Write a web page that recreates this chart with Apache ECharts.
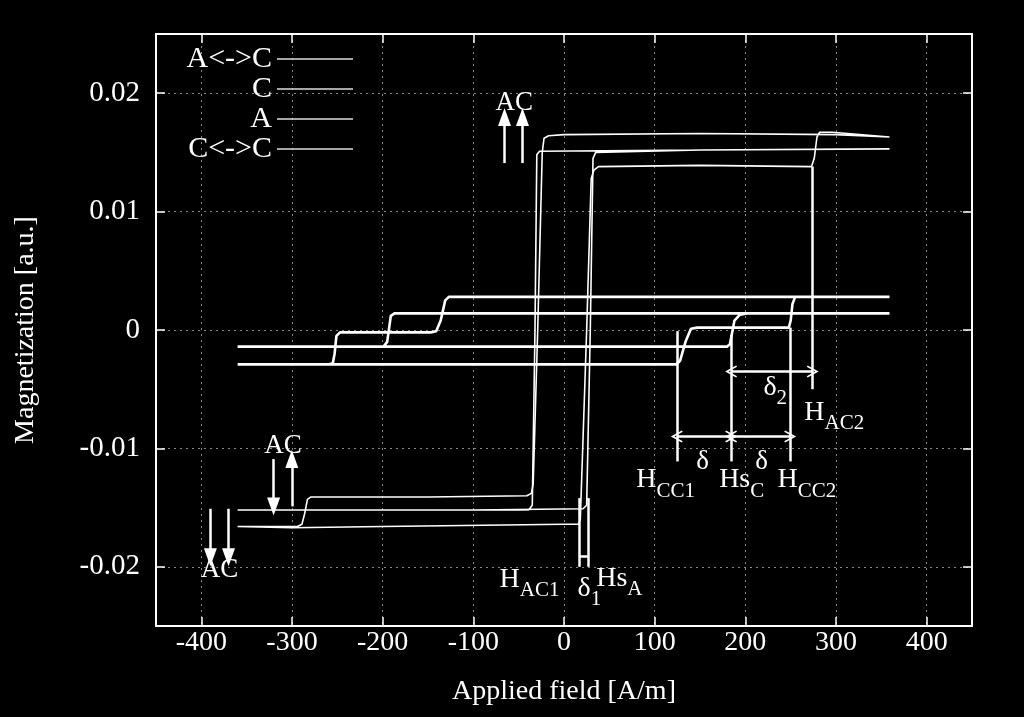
<!DOCTYPE html>
<html>
<head>
<meta charset="utf-8">
<script src="https://cdn.jsdelivr.net/npm/echarts@6/dist/echarts.min.js"></script>
<style>
  html, body { margin: 0; padding: 0; background: #000; }
  #chart { width: 1024px; height: 717px; }
</style>
</head>
<body>
<div id="chart"></div>
<script>
// loop branches, [field A/m, magnetization a.u.]
var acDesc = [[359, 0.0163], [300, 0.0165], [150, 0.0166], [0, 0.0165], [-17, 0.0164], [-22, 0.0162], [-24, 0.0150],
  [-29, 0.0000], [-34, -0.0130], [-36, -0.0138], [-41, -0.0140], [-150, -0.0141], [-279, -0.0141], [-283, -0.0143],
  [-286, -0.0155], [-289, -0.0164], [-294, -0.0166], [-360, -0.0166]];
var acAsc = [[-360, -0.0166], [-300, -0.0167], [-200, -0.0166], [0, -0.0164], [16, -0.0164], [18, -0.0160], [25, 0.0000],
  [30, 0.0128], [33, 0.0135], [38, 0.0138], [150, 0.0139], [273, 0.0138], [276, 0.0145], [279, 0.0163], [282, 0.0167],
  [296, 0.0167], [359, 0.0163]];
var aDesc = [[359, 0.0153], [150, 0.0152], [-27, 0.0151], [-30, 0.0148], [-32, 0.0000], [-35, -0.0148], [-39, -0.0152],
  [-200, -0.0152], [-360, -0.0152]];
var aAsc = [[-360, -0.0152], [-100, -0.0152], [21, -0.0151], [25, -0.0148], [29, 0.0000], [32, 0.0145], [35, 0.0150],
  [150, 0.0152], [359, 0.0153]];
var cDesc = [[359, 0.0014], [0, 0.0014], [-187, 0.0014], [-191, 0.0012], [-195, -0.0010], [-199, -0.0014], [-360, -0.0014]];
var cAsc = [[-360, -0.0014], [0, -0.0014], [180, -0.0014], [183, -0.0012], [188, 0.0008], [194, 0.0013], [202, 0.0014],
  [359, 0.0014]];
var ccDesc = [[359, 0.0028], [0, 0.0028], [-127, 0.0028], [-131, 0.0025], [-136, 0.0008], [-141, -0.0001], [-147, -0.0002],
  [-247, -0.0002], [-251, -0.0005], [-253, -0.0020], [-255, -0.0028], [-259, -0.0029], [-360, -0.0029]];
var ccAsc = [[-360, -0.0029], [0, -0.0029], [124, -0.0029], [128, -0.0026], [134, -0.0010], [140, 0.0001], [147, 0.0002],
  [248, 0.0002], [250, 0.0008], [252, 0.0022], [255, 0.0028], [262, 0.0028], [359, 0.0028]];

var seriesNames = ['A<->C', 'C', 'A', 'C<->C'];

// annotation text, anchored in data units
var notes = [
  [-55, 0.0192, 'AC'],
  [-310, -0.00975, 'AC'],
  [-380, -0.0203, 'AC'],
  [233, -0.0058, '{n|δ}{s|2}'],
  [298, -0.0079, '{n|H}{s|AC2}'],
  [153, -0.0111, 'δ'],
  [218, -0.0111, 'δ'],
  [112, -0.0136, '{n|H}{s|CC1}'],
  [196, -0.0136, '{n|Hs}{s|C}'],
  [268, -0.0136, '{n|H}{s|CC2}'],
  [-38, -0.0220, '{n|H}{s|AC1}'],
  [28, -0.0228, '{n|δ}{s|1}'],
  [61, -0.0219, '{n|Hs}{s|A}']
];
// arrows [x1, y1, x2, y2, heads]
var arrows = [
  [-65.6, 0.0141, -65.6, 0.0180, 'up'],
  [-45.8, 0.0141, -45.8, 0.0180, 'up'],
  [-320.3, -0.0109, -320.3, -0.0149, 'up'],
  [-300.2, -0.0149, -300.2, -0.0109, 'up'],
  [-390, -0.0151, -390, -0.0192, 'up'],
  [-370, -0.0151, -370, -0.0192, 'up'],
  [184.3, -0.0035, 274.3, -0.0035, 'both'],
  [124.4, -0.0090, 184.3, -0.0090, 'both'],
  [184.3, -0.0090, 249.4, -0.0090, 'both']
];
// plain marker lines [x1, y1, x2, y2]
var marks = [
  [124.4, -0.0001, 124.4, -0.0111],
  [184.3, -0.0004, 184.3, -0.0111],
  [249.4, 0.0002, 249.4, -0.0111],
  [274.3, 0.0138, 274.3, -0.0050],
  [16.3, -0.0142, 16.3, -0.0200],
  [26.2, -0.0142, 26.2, -0.0200],
  [16.3, -0.01915, 26.2, -0.01915]
];

var FONT = 'Liberation Serif';
var chevron = 'path://M0,0 L7,11 L5.5,12 L0,3.5 L-5.5,12 L-7,11 Z';

var markData = [];
arrows.forEach(function (a) {
  var head = a[4] === 'up' ? 'triangle' : chevron;
  var size = a[4] === 'up' ? [13, 18] : [12, 12];
  markData.push([
    { coord: [a[0], a[1]], symbol: a[4] === 'both' ? head : 'none', symbolSize: size },
    { coord: [a[2], a[3]], symbol: head, symbolSize: size }
  ]);
});
marks.forEach(function (m) {
  markData.push([
    { coord: [m[0], m[1]], symbol: 'none' },
    { coord: [m[2], m[3]], symbol: 'none' }
  ]);
});

var chart = echarts.init(document.getElementById('chart'));

function loop(name, data, width) {
  return {
    name: name,
    type: 'line',
    data: data,
    symbol: 'none',
    silent: true,
    itemStyle: { color: '#fff' },
    lineStyle: { color: '#fff', width: width }
  };
}

function frameAxis(extra) {
  return Object.assign({
    type: 'value',
    axisLine: { show: true, onZero: false, lineStyle: { color: '#fff', width: 2 } },
    axisTick: { show: true, inside: true, length: 9, lineStyle: { color: '#fff', width: 1.5 } },
    axisLabel: { show: false },
    splitLine: { show: false }
  }, extra);
}

var option = {
  backgroundColor: '#000',
  animation: false,
  grid: { left: 156, right: 52, top: 34, bottom: 91 },
  legend: {
    data: seriesNames,
    orient: 'vertical',
    align: 'right',
    right: 671,
    top: 44,
    padding: 0,
    itemGap: 0,
    itemWidth: 76,
    itemHeight: 14,
    icon: 'path://M0,6 L76,6 L76,7.5 L0,7.5 Z',
    itemStyle: { color: '#ddd' },
    textStyle: { color: '#fff', fontSize: 30, fontFamily: FONT, lineHeight: 26 }
  },
  xAxis: [
    frameAxis({
      min: -450, max: 450, minInterval: 100, maxInterval: 100,
      name: 'Applied field [A/m]',
      nameLocation: 'middle',
      nameGap: 52,
      nameTextStyle: { color: '#fff', fontSize: 28, fontFamily: FONT },
      axisLabel: {
        show: true, color: '#fff', fontSize: 28, fontFamily: FONT, margin: 3,
        showMinLabel: false, showMaxLabel: false
      },
      splitLine: { show: true, lineStyle: { color: '#888', width: 1, type: [2, 4] } }
    }),
    frameAxis({ min: -450, max: 450, minInterval: 100, maxInterval: 100, position: 'top' })
  ],
  yAxis: [
    frameAxis({
      min: -0.025, max: 0.025, minInterval: 0.01, maxInterval: 0.01,
      name: 'Magnetization [a.u.]',
      nameLocation: 'middle',
      nameGap: 116,
      nameTextStyle: { color: '#fff', fontSize: 28, fontFamily: FONT },
      axisLabel: {
        show: true, color: '#fff', fontSize: 29, fontFamily: FONT, margin: 16,
        showMinLabel: false, showMaxLabel: false,
        formatter: function (v) { return String(Math.round(v * 100) / 100); }
      },
      splitLine: { show: true, lineStyle: { color: '#888', width: 1, type: [2, 4] } }
    }),
    frameAxis({ min: -0.025, max: 0.025, minInterval: 0.01, maxInterval: 0.01, position: 'right' })
  ],
  series: [
    loop('A<->C', acDesc.concat(acAsc), 1.6),
    loop('C', cDesc.concat(cAsc), 2.6),
    loop('A', aDesc.concat(aAsc), 1.6),
    loop('C<->C', ccDesc.concat(ccAsc), 2.6),
    {
      name: 'notes',
      type: 'scatter',
      silent: true,
      symbolSize: 0.1,
      itemStyle: { color: 'rgba(0,0,0,0)', opacity: 1 },
      data: notes,
      z: 5,
      label: {
        show: true,
        position: 'inside',
        color: '#fff',
        opacity: 1,
        textBorderWidth: 0,
        fontFamily: FONT,
        fontSize: 27,
        formatter: function (p) { return p.data[2]; },
        rich: {
          n: { color: '#fff', fontFamily: FONT, fontSize: 28, lineHeight: 30, verticalAlign: 'top' },
          s: { color: '#fff', fontFamily: FONT, fontSize: 21, lineHeight: 50 }
        }
      },
      markLine: {
        silent: true,
        animation: false,
        precision: 6,
        label: { show: false },
        lineStyle: { color: '#fff', width: 2.5, type: 'solid', opacity: 1 },
        emphasis: { disabled: true },
        data: markData
      }
    }
  ]
};

chart.setOption(option);
</script>
</body>
</html>
